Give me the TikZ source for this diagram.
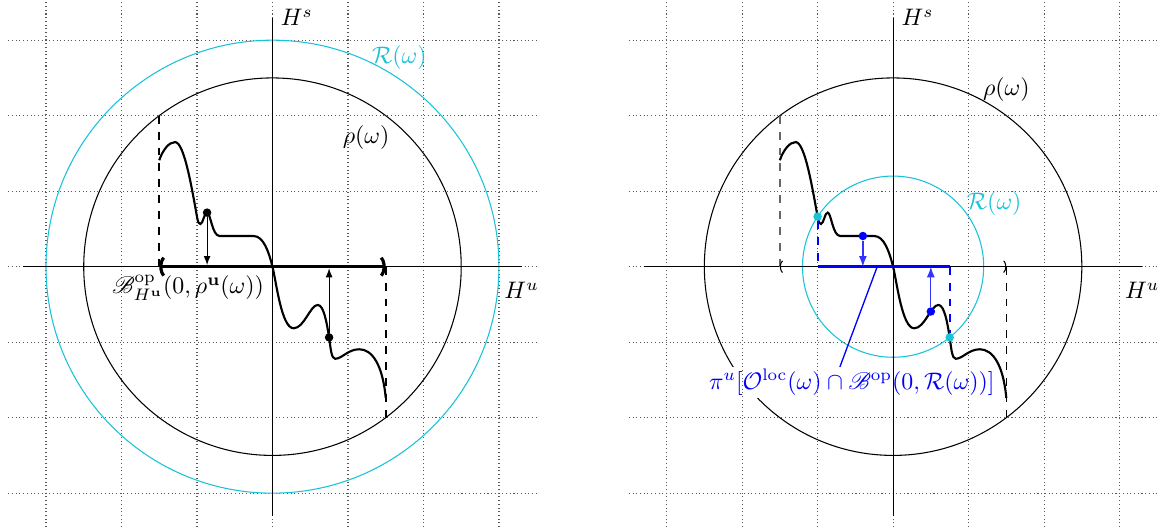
\documentclass[tikz,border=0pt]{standalone}
\usepackage{amsmath,amssymb}
\usepackage{mathrsfs}
\usetikzlibrary{arrows.meta}
\definecolor{rcyan}{RGB}{25,195,215}
\tikzset{
  gridline/.style={densely dotted, black!65, line width=0.4pt},
  axisline/.style={line width=0.4pt},
  ballcircle/.style={line width=0.4pt},
  curveline/.style={line width=0.8pt},
  wiggle/.style={insert path={
    (-1.5,1.41) .. controls (-1.45,1.55) and (-1.37,1.65) .. (-1.29,1.65)
    .. controls (-1.17,1.65) and (-1.07,1.05) .. (-1.0,0.663)
    .. controls (-0.985,0.58) and (-0.975,0.565) .. (-0.955,0.565)
    .. controls (-0.92,0.565) and (-0.905,0.716) .. (-0.866,0.716)
    .. controls (-0.82,0.716) and (-0.8,0.406) .. (-0.7,0.406)
    .. controls (-0.5,0.406) and (-0.35,0.406) .. (-0.25,0.406)
    .. controls (-0.12,0.406) and (-0.05,0.2) .. (0,0)
    .. controls (0.05,-0.2) and (0.12,-0.816) .. (0.28,-0.816)
    .. controls (0.42,-0.816) and (0.5,-0.507) .. (0.6,-0.507)
    .. controls (0.68,-0.507) and (0.72,-0.75) .. (0.75,-0.937)
    .. controls (0.77,-1.08) and (0.78,-1.22) .. (0.83,-1.22)
    .. controls (0.92,-1.22) and (1.0,-1.094) .. (1.15,-1.094)
    .. controls (1.32,-1.094) and (1.46,-1.3) .. (1.5,-1.74)}},
  dropline/.style={-{Latex[length=3.4pt,width=2.6pt]}, line width=0.4pt, shorten >=0.6pt},
  bluedrop/.style={blue!80, -{Latex[length=4pt,width=3pt]}, line width=0.5pt},
  dotmark/.style={circle, fill, inner sep=0pt, minimum size=3.2pt},
  thickparen/.style={line width=1.2pt, {Parenthesis[width=9pt,length=2.8pt]}-{Parenthesis[width=9pt,length=2.8pt]}},
  thinparen/.style={line width=0.4pt, {Parenthesis[width=5.5pt,length=1.8pt]}-{Parenthesis[width=5.5pt,length=1.8pt]}},
  lbl/.style={scale=0.9},
}
\begin{document}
\begin{tikzpicture}
\useasboundingbox (-3.609,-3.461) rectangle (11.835,3.532);

% ---------------- left panel ----------------
\coordinate (O) at (0,0);
\coordinate (xl) at (-3.3,0);
\coordinate (xr) at (3.3,0);
\coordinate (yb) at (0,-3.3);
\coordinate (yt) at (0,3.3);
\coordinate (lt) at (-1.5,2);
\coordinate (lb) at (-1.5,0);
\coordinate (rt) at (1.5,0);
\coordinate (rb) at (1.5,-2);
\coordinate (a1) at (-0.866,0);
\coordinate (a2) at (0.75,0);

\draw[gridline] (-3.5,-3.5) grid (3.5,3.5);
\draw[rcyan, ballcircle] (O) circle (3);
\draw[ballcircle] (O) circle (2.5);
\draw[axisline] (xl) -- (xr);
\draw[axisline] (yb) -- (yt);
\node[lbl, right] (Hs) at (yt) {$H^s$};
\node[lbl] (Hu) at (3.3,-0.32) {$H^u$};
\node[lbl, text=rcyan] (Rl) at (1.68,2.77) {$\mathcal{R}(\omega)$};
\node[lbl] (rl) at (1.24,1.71) {$\rho(\omega)$};

\draw[dashed, line width=0.8pt] (lt) -- (lb);
\draw[dashed, line width=0.8pt] (rt) -- (rb);
\draw[curveline, wiggle];
\draw[thickparen] (lb) -- (rt);
\node[dotmark] (d1) at (-0.866,0.716) {};
\node[dotmark] (d2) at (0.75,-0.937) {};
\draw[dropline] (d1) -- (a1);
\draw[dropline] (d2) -- (a2);
\node[lbl, below left] (Bl) at (O) {$\mathscr{B}^{\mathrm{op}}_{H^{\mathbf{u}}}(0,\rho^{\mathbf{u}}(\omega))$};

% ---------------- right panel ----------------
\begin{scope}[xshift=8.22cm]
\coordinate (O2) at (0,0);
\coordinate (xl2) at (-3.3,0);
\coordinate (xr2) at (3.3,0);
\coordinate (yb2) at (0,-3.3);
\coordinate (yt2) at (0,3.3);
\coordinate (lt2) at (-1.5,2);
\coordinate (lb2) at (-1.5,0);
\coordinate (rt2) at (1.5,0);
\coordinate (rb2) at (1.5,-2);
\coordinate (b1) at (-1,0);
\coordinate (b2) at (0.75,0);
\coordinate (e1) at (-0.4,0);
\coordinate (e2) at (0.5,0);
\coordinate (pin) at (-0.21,0);
\coordinate (pinend) at (-0.75,-1.45);

\draw[ballcircle] (O2) circle (2.5);
\draw[rcyan, ballcircle] (O2) circle (1.2);
\draw[blue, line width=0.5pt] (pin) -- (pinend);
\node[lbl, fill=white, inner sep=1pt, text=blue] (lab) at (-0.547,-1.53)
  {$\pi^u[\mathcal{O}^{\mathrm{loc}}(\omega)\cap\mathscr{B}^{\mathrm{op}}(0,\mathcal{R}(\omega))]$};

\draw[gridline] (-3.5,-3.5) grid (3.5,3.5);
\draw[axisline] (xl2) -- (xr2);
\draw[axisline] (yb2) -- (yt2);
\node[lbl, right] (Hs2) at (yt2) {$H^s$};
\node[lbl] (Hu2) at (3.3,-0.32) {$H^u$};
\node[lbl, text=rcyan] (Rr) at (1.34,0.83) {$\mathcal{R}(\omega)$};
\node[lbl] (rr) at (1.50,2.35) {$\rho(\omega)$};

\draw[dashed, black!60, line width=0.6pt] (lt2) -- (lb2);
\draw[dashed, line width=0.5pt] (rt2) -- (rb2);
\draw[thinparen] (lb2) -- (rt2);
\draw[curveline, wiggle];

\node[dotmark, fill=rcyan] (c1) at (-1,0.663) {};
\node[dotmark, fill=rcyan] (c2) at (0.75,-0.937) {};
\draw[blue, dashed, line width=0.8pt] (c1) -- (b1);
\draw[blue, dashed, line width=0.8pt] (b2) -- (c2);
\draw[blue, line width=1.2pt] (b1) -- (b2);
\node[dotmark, fill=blue] (f1) at (-0.4,0.406) {};
\node[dotmark, fill=blue] (f2) at (0.5,-0.594) {};
\draw[bluedrop] (f1) -- (e1);
\draw[bluedrop] (f2) -- (e2);
\end{scope}
\end{tikzpicture}
\end{document}
